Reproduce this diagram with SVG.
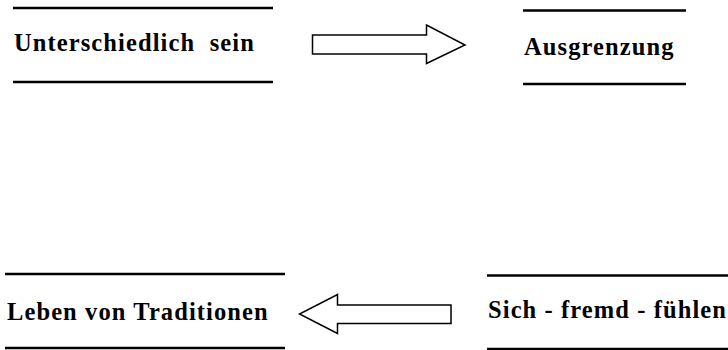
<svg xmlns="http://www.w3.org/2000/svg" width="728" height="350" viewBox="0 0 728 350">
  <style>
    .bar { stroke: #000; stroke-width: 2.5; fill: none; }
    .label { font-family: 'Liberation Serif', 'Times New Roman', Times, serif; font-weight: 700; font-size: 24.5px; letter-spacing: 1.1px; fill: #000; }
    .arrow { fill: #fff; stroke: #000; stroke-width: 1.5; stroke-linejoin: miter; }
  </style>
  <rect width="728" height="350" fill="#fff"/>

  <g id="node-unterschiedlich">
    <line class="bar" x1="13" y1="8" x2="273" y2="8"/>
    <text class="label" x="14" y="51" xml:space="preserve">Unterschiedlich  sein</text>
    <line class="bar" x1="13" y1="82" x2="273" y2="82"/>
  </g>

  <g id="node-ausgrenzung">
    <line class="bar" x1="523" y1="10.5" x2="686" y2="10.5"/>
    <text class="label" x="524" y="55">Ausgrenzung</text>
    <line class="bar" x1="523" y1="84" x2="686" y2="84"/>
  </g>

  <g id="node-traditionen">
    <line class="bar" x1="5" y1="274" x2="285" y2="274"/>
    <text class="label" x="7" y="320">Leben von Traditionen</text>
    <line class="bar" x1="5" y1="348" x2="285" y2="348"/>
  </g>

  <g id="node-fremd">
    <line class="bar" x1="487" y1="275.5" x2="728" y2="275.5"/>
    <text class="label" x="488" y="318">Sich - fremd - fühlen</text>
    <line class="bar" x1="487" y1="349" x2="728" y2="349"/>
  </g>

  <g id="connectors">
    <!-- block arrow pointing right -->
    <polygon class="arrow" points="312.5,35 426.5,35 426.5,25 465,45 426.5,63.5 426.5,54 312.5,54"/>
    <!-- block arrow pointing left -->
    <polygon class="arrow" points="451,305 337.5,305 337.5,294.5 299.5,314 337.5,333.5 337.5,323.5 451,323.5"/>
  </g>
</svg>
